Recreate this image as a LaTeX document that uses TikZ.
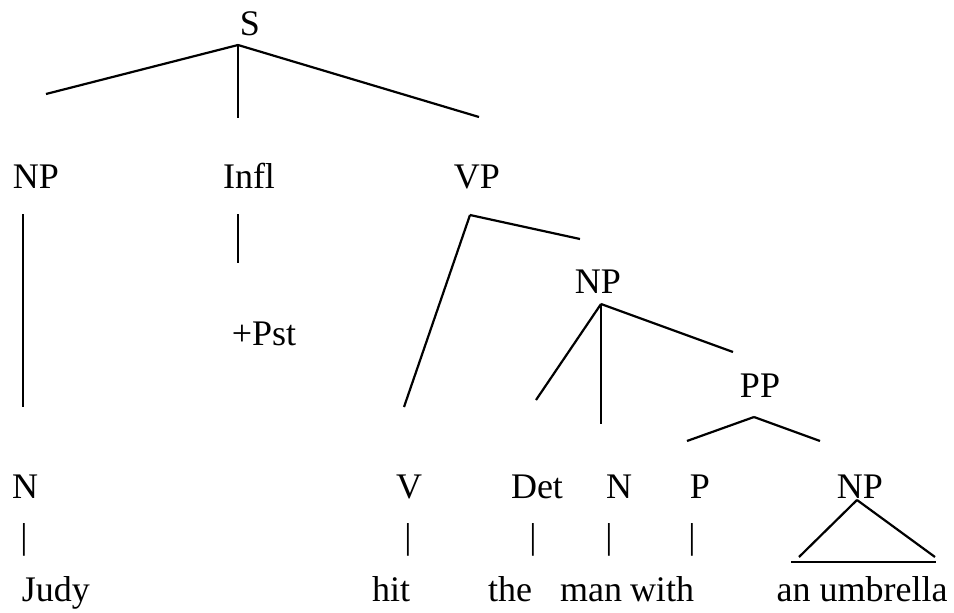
\documentclass[tikz,border=0pt]{standalone}
\usepackage{fontspec}
\setmainfont{Liberation Serif}

\begin{document}
\begin{tikzpicture}[x=1pt,y=-1pt,
                    cat/.style={anchor=base,inner sep=0pt,font=\fontsize{36}{40}\selectfont},
                    branch/.style={line width=2.2pt}]
    \useasboundingbox (0,0) rectangle (954,613);

    % labels
    \node[cat] (s) at (250,35) {S};
    \node[cat] (np1) at (36,188) {NP};
    \node[cat] (infl) at (249,188) {Infl};
    \node[cat] (vp) at (477,188) {VP};
    \node[cat] (np2) at (598,293) {NP};
    \node[cat] (pst) at (264,345) {+Pst};
    \node[cat] (pp) at (760,397) {PP};
    \node[cat] (n1) at (25,498) {N};
    \node[cat] (v) at (409,498) {V};
    \node[cat] (det) at (537,498) {Det};
    \node[cat] (n2) at (619,498) {N};
    \node[cat] (p) at (700,498) {P};
    \node[cat] (np3) at (860,498) {NP};

    % bars under the word classes
    \node[cat] (bar1) at (24,548) {|};
    \node[cat] (bar2) at (408,548) {|};
    \node[cat] (bar3) at (533,548) {|};
    \node[cat] (bar4) at (609,548) {|};
    \node[cat] (bar5) at (692,548) {|};

    % words
    \node[cat] (judy) at (56,601) {Judy};
    \node[cat] (hit) at (391,601) {hit};
    \node[cat] (the) at (510,601) {the};
    \node[cat] (man) at (591,601) {man};
    \node[cat] (with) at (662,601) {with};
    \node[cat] (umb) at (862,601) {an umbrella};

    % branch points
    \coordinate (s-j) at (238,45);
    \coordinate (s-l) at (46,94);
    \coordinate (s-m) at (238,118);
    \coordinate (s-r) at (479,117);
    \coordinate (np1-t) at (23,214);
    \coordinate (np1-b) at (23,407);
    \coordinate (infl-t) at (238,214);
    \coordinate (infl-b) at (238,263);
    \coordinate (vp-j) at (470,215);
    \coordinate (vp-l) at (404,407);
    \coordinate (vp-r) at (580,239);
    \coordinate (np2-j) at (601,304);
    \coordinate (np2-l) at (536,400);
    \coordinate (np2-m) at (601,424);
    \coordinate (np2-r) at (733,352);
    \coordinate (pp-j) at (754,417);
    \coordinate (pp-l) at (687,441);
    \coordinate (pp-r) at (820,441);
    \coordinate (np3-j) at (857,500);
    \coordinate (np3-l) at (799,557);
    \coordinate (np3-r) at (935,557);
    \coordinate (base-l) at (791,562);
    \coordinate (base-r) at (936,562);

    \path[branch]
      (s-j) edge (s-l)
            edge (s-m)
            edge (s-r)
      (np1-t) edge (np1-b)
      (infl-t) edge (infl-b)
      (vp-j) edge (vp-l)
             edge (vp-r)
      (np2-j) edge (np2-l)
              edge (np2-m)
              edge (np2-r)
      (pp-j) edge (pp-l)
             edge (pp-r)
      (np3-j) edge (np3-l)
              edge (np3-r)
      (base-l) edge (base-r);
\end{tikzpicture}
\end{document}
